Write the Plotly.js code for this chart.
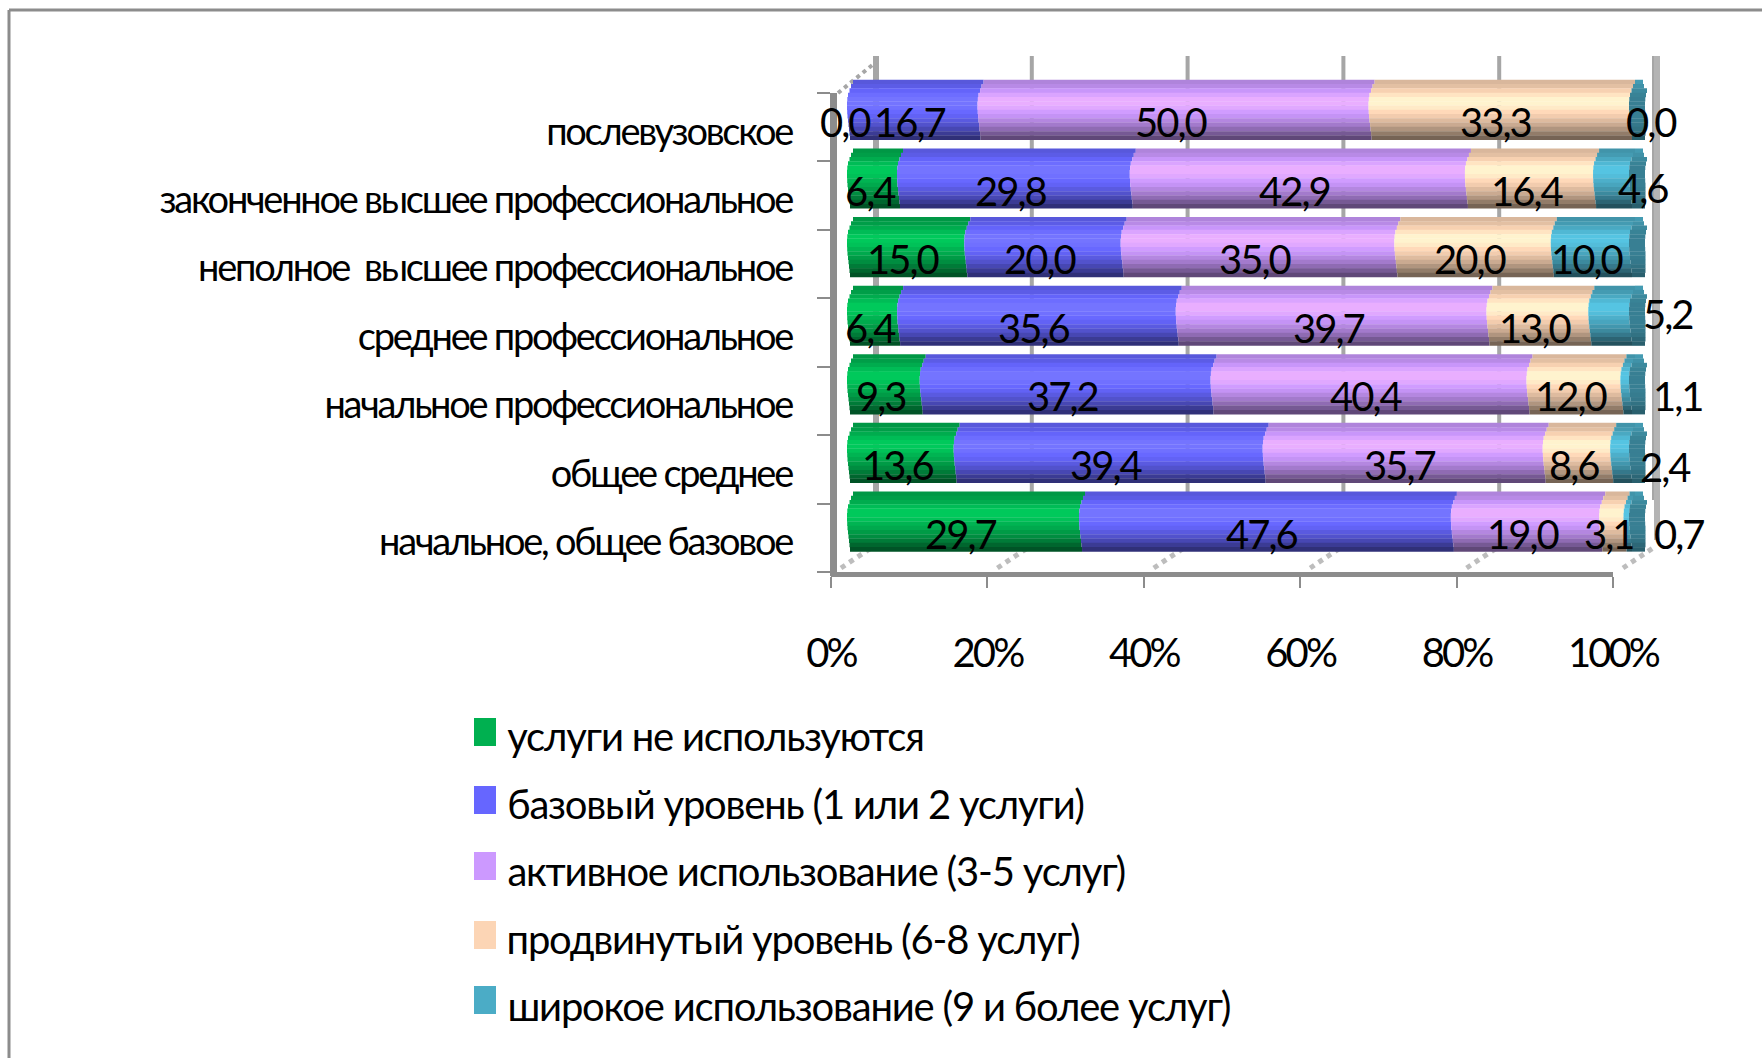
<!DOCTYPE html>
<html><head><meta charset="utf-8">
<script src="https://cdn.plot.ly/plotly-3.0.0.min.js"></script>
<style>html,body{margin:0;padding:0;background:#fff}#c{width:1762px;height:1058px}
g.ytick{transform:translateY(4px)}
.ytick text{letter-spacing:-2.25px}
.xtick text{letter-spacing:-2.9px}
.annotation text{letter-spacing:-2px}
.annotation[data-index="0"] text,.annotation[data-index="1"] text,.annotation[data-index="2"] text,.annotation[data-index="3"] text,.annotation[data-index="4"] text{letter-spacing:-1.2px}
</style>
</head><body><div id="c"></div>
<script>
// ---- data ----
const categories = ['начальное, общее базовое','общее среднее','начальное профессиональное','среднее профессиональное','неполное  высшее профессиональное','законченное высшее профессиональное','послевузовское'];
const seriesNames = ['услуги не используются','базовый уровень (1 или 2 услуги)','активное использование (3-5 услуг)','продвинутый уровень (6-8 услуг)','широкое использование (9 и более услуг)'];
const notUsed  = [29.7,13.6, 9.3, 6.4,15.0, 6.4, 0.0];
const basic    = [47.6,39.4,37.2,35.6,20.0,29.8,16.7];
const active   = [19.0,35.7,40.4,39.7,35.0,42.9,50.0];
const advanced = [ 3.1, 8.6,12.0,13.0,20.0,16.4,33.3];
const wide     = [ 0.7, 2.4, 1.1, 5.2,10.0, 4.6, 0.0];
const xTicks = [0,20,40,60,80,100];
const xTickLabels = ['0%','20%','40%','60%','80%','100%'];

// ---- styling ----
const W=1762,H=1058;
const FONT='Lato,"Open Sans",sans-serif';
const LABEL_SIZE=40;
const seriesValues=[notUsed,basic,active,advanced,wide];
const seriesColors=[[0,176,80],[102,102,255],[204,153,255],[252,213,181],[75,172,198]];
const shade=[0.86,0.9,0.98,1.07,1.14,1.14,1.1,1.02,0.96,0.88,0.8,0.7,0.58,0.47];
const bulgePx=[6,4,2.5,1,0.3,0,0,0.2,0.5,1,1.5,2,2.5,3];
const capPx=[14,15,15.5,16,16,16,16,16,16,15.5,15,14.5,14,13];
const capShade=[0.9,0.85,0.8,0.76,0.74,0.74,0.74,0.74,0.74,0.72,0.7,0.66,0.6,0.55];
const PXU=7.82;               // pixels per percent
const bandShare=0.873, dh=bandShare/shade.length;
const px=v=>v/W, py=v=>1-v/H;
const rgb=(c,m)=>`rgb(${c.map(v=>Math.min(255,Math.round(v*m))).join(',')})`;

// normalise to 100% like a 100%-stacked chart
const totals=categories.map((_,r)=>seriesValues.reduce((a,s)=>a+s[r],0));
const norm=seriesValues.map(s=>s.map((v,r)=>v/totals[r]*100));
const cum=norm.map((_,i)=>categories.map((_,r)=>norm.slice(0,i).reduce((a,s)=>a+s[r],0)));

const traces=[{type:'scatter',mode:'markers',x:categories.map(()=>0),y:categories,xaxis:'x',yaxis:'y',marker:{opacity:0},hoverinfo:'skip',showlegend:false}];
seriesValues.forEach((s,i)=>{
  shade.forEach((m,k)=>{
    const sh=bulgePx[k]/PXU;
    traces.push({type:'bar',orientation:'h',xaxis:'x2',yaxis:'y2',y:categories,
      x:norm[i],base:cum[i].map(b=>b+sh),
      width:dh*1.06,offset:bandShare/2-(k+1)*dh,
      marker:{color:rgb(seriesColors[i],m),line:{width:0}},
      hoverinfo:'skip',showlegend:false,name:seriesNames[i]});
  });
});
// dark end cap of each cylinder
shade.forEach((m,k)=>{
  const sh=bulgePx[k]/PXU;
  traces.push({type:'bar',orientation:'h',xaxis:'x2',yaxis:'y2',y:categories,
    x:categories.map(()=>capPx[k]/PXU+(bulgePx[k]>3?-sh:0)),base:categories.map(()=>100+sh),
    width:dh*1.06,offset:bandShare/2-(k+1)*dh,
    marker:{color:rgb(seriesColors[4],capShade[k]),line:{width:0}},
    hoverinfo:'skip',showlegend:false});
});

const annotations=[];
const shapes=[];
// legend (first five annotations; letter-spacing is not seen by Plotly's measuring, hence the xshift)
const legendSpacing=1.2;
const legendSwatchY=[718,786,852,921,986], legendTextY=[736,804,871,939,1006];
seriesNames.forEach((n,i)=>{
  shapes.push({type:'rect',xref:'paper',yref:'paper',x0:px(474),x1:px(496),y0:py(legendSwatchY[i]),y1:py(legendSwatchY[i]+28),fillcolor:rgb(seriesColors[i],1),line:{width:0}});
  annotations.push({xref:'paper',yref:'paper',x:px(505),y:py(legendTextY[i]),xanchor:'left',yanchor:'middle',xshift:-legendSpacing*n.length/2,text:n,showarrow:false,font:{family:FONT,size:LABEL_SIZE,color:'#000'}});
});
// data labels (a few were moved by hand in the reference): [dx, dy] in pixels
const labelShift={ '0-6':[0,0], '4-6':[24,0], '4-5':[34,-3], '4-3':[62,-14], '4-2':[56,0], '4-1':[48,2], '4-0':[55,0] };
seriesValues.forEach((s,i)=>s.forEach((v,r)=>{
  const sft=labelShift[i+'-'+r]||[0,0];
  annotations.push({xref:'x2',yref:'y2',x:cum[i][r]+norm[i][r]/2,y:categories[r],text:v.toFixed(1).replace('.',','),
    showarrow:false,xshift:sft[0]-3,yshift:-12-sft[1],font:{family:FONT,size:LABEL_SIZE,color:'#000'}});
}));
// chart frame and 3-D walls
const line=(x0,y0,x1,y1,color,width,dash,layer)=>shapes.push({type:'line',xref:'paper',yref:'paper',x0:px(x0),y0:py(y0),x1:px(x1),y1:py(y1),line:{color,width,dash:dash||'solid'},layer:layer||'below'});
line(9,10,1762,10,'#8c8c8c',3); line(9,10,9,1058,'#8c8c8c',3);
xTicks.forEach((t,i)=>{
  const back=876+t*7.79;
  line(back,56,back,500,'#a6a6a6',i==0||i==5?6:4);
  const fx=831+t*7.82;
  line(fx+10,568,fx+40,548,'#bdbdbd',5,'dot');
});
line(1657,56,1657,540,'#b4b4b4',6);
line(838,93,876,62,'#a6a6a6',4,'dot');
line(833.5,93,833.5,576,'#8c8c8c',7);

const layout={width:W,height:H,margin:{l:0,r:0,t:0,b:0},paper_bgcolor:'#fff',plot_bgcolor:'rgba(0,0,0,0)',
  barmode:'overlay',showlegend:false,shapes,annotations,font:{family:FONT,color:'#000'},
  xaxis:{domain:[px(831),px(1613)],range:[0,100],anchor:'y',tickvals:xTicks,ticktext:xTickLabels,ticks:'outside',ticklen:11,tickwidth:2,tickcolor:'#8c8c8c',
    showline:true,linecolor:'#8c8c8c',linewidth:5,showgrid:false,zeroline:false,ticklabelstandoff:31,tickfont:{family:FONT,size:LABEL_SIZE},fixedrange:true},
  yaxis:{domain:[py(572),py(93)],range:[-0.5,6.5],anchor:'x',type:'category',categoryorder:'array',categoryarray:categories,tickson:'boundaries',ticks:'outside',ticklen:13,tickwidth:2,tickcolor:'#8c8c8c',
    showline:false,showgrid:false,zeroline:false,ticklabelstandoff:38,tickfont:{family:FONT,size:38},fixedrange:true},
  xaxis2:{domain:[px(847),px(1647)],range:[0,800/PXU],anchor:'y2',visible:false,fixedrange:true},
  yaxis2:{domain:[py(556),py(75.7)],range:[-0.5,6.5],anchor:'x2',type:'category',categoryorder:'array',categoryarray:categories,visible:false,fixedrange:true}
};
Plotly.newPlot('c',traces,layout,{displayModeBar:false,staticPlot:true});
</script></body></html>
